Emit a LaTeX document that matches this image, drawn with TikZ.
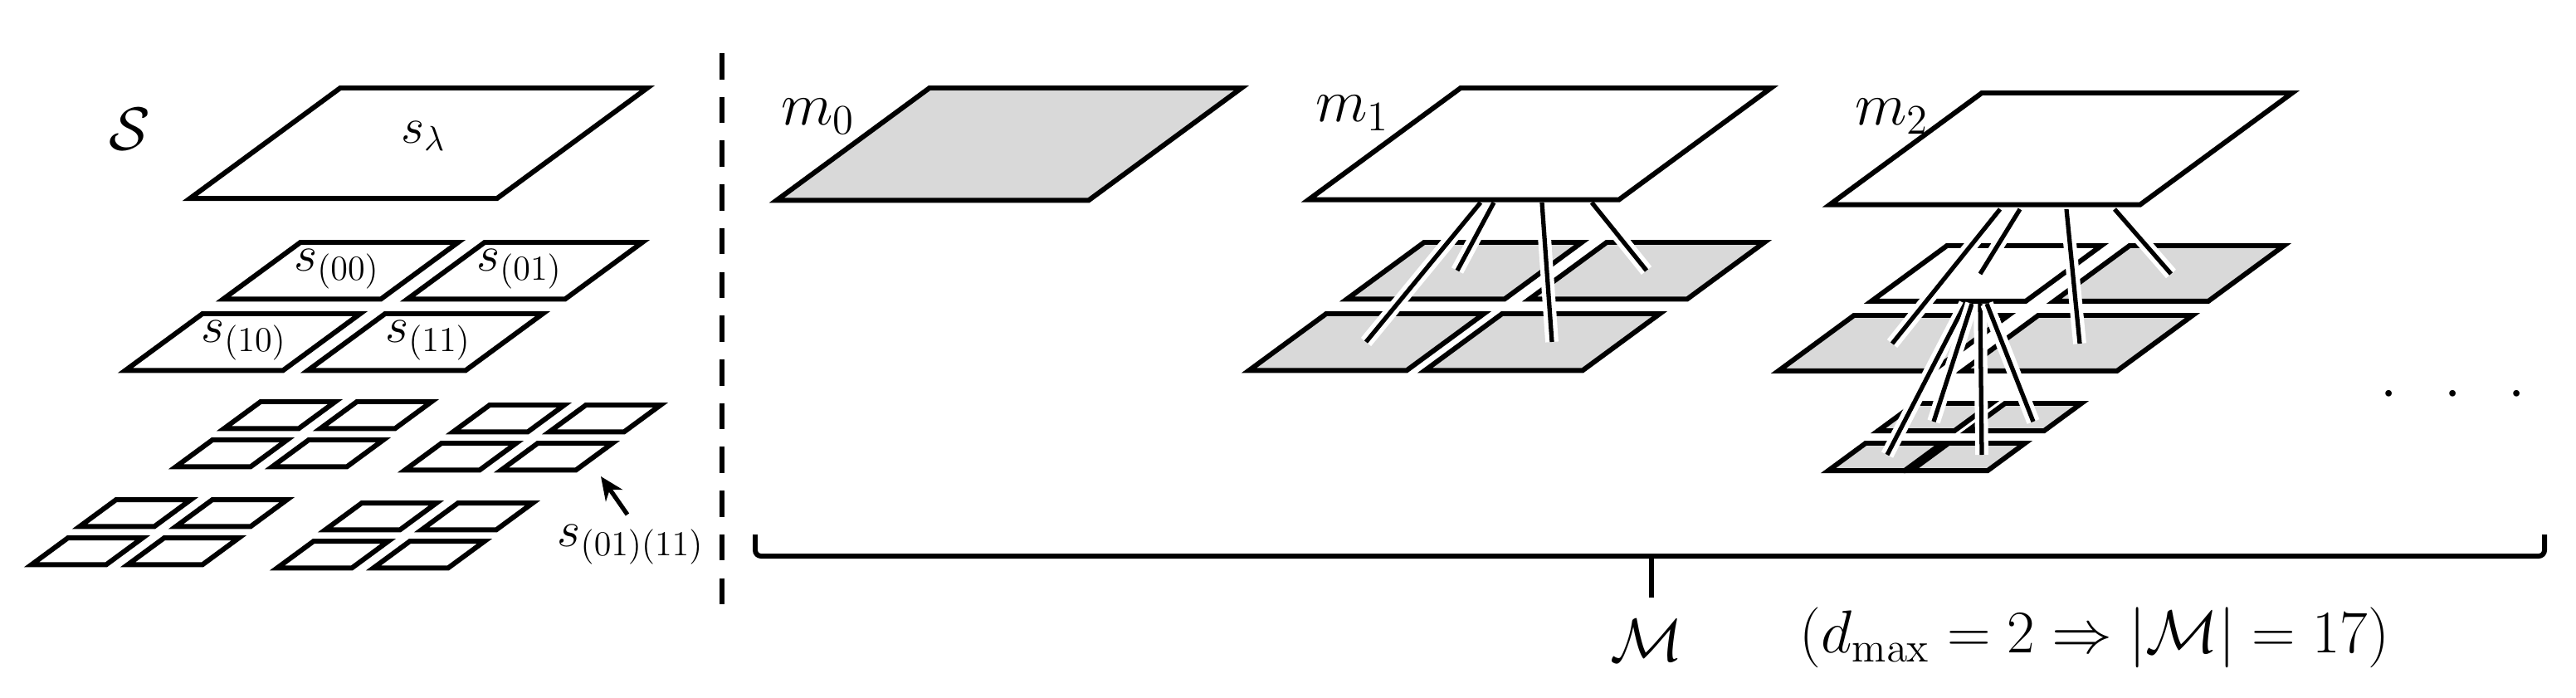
\documentclass[tikz,border=0pt]{standalone}
\usepackage{amsmath}
\usetikzlibrary{arrows.meta}
\begin{document}
\begin{tikzpicture}[x=0.02cm,y=-0.02cm,line join=miter,
  edge/.style={line width=1.7pt},
  link/.style={draw=white,line width=1.5pt,double=black,double distance=1.5pt},
  big/.style={font=\fontsize{21}{25}\selectfont},
  lab/.style={font=\fontsize{17}{20}\selectfont,inner sep=0pt}]
\useasboundingbox (0,0) rectangle (1552,420);
\definecolor{tilegray}{gray}{0.85}
% parallelogram: x, y (top-left), width, fill
\newcommand\pg[4]{\filldraw[edge,fill=#4] (#1,#2) -- ++(#3,0) -- ++({-0.49*#3},{0.36*#3}) -- ++({-#3},0) -- cycle;}
% 2x2 small group: x,y of top-left tile
\newcommand\grp[2]{\pg{#1}{#2}{45}{white}\pg{#1+58}{#2}{45}{white}\pg{#1-29}{#2+23}{45}{white}\pg{#1+29}{#2+23}{45}{white}}
% ---- left part S
\node[big] (S) at (78,78) {$\mathcal{S}$};
\pg{205}{53}{185}{white}
\node[lab] (sl) at (255,82) {$s_\lambda$};
\pg{181}{146}{95}{white}\pg{292}{146}{95}{white}
\pg{122}{189}{95}{white}\pg{232}{189}{95}{white}
\node[lab] (s00) at (203,162) {$s_{(00)}$};
\node[lab] (s01) at (313,162) {$s_{(01)}$};
\node[lab] (s10) at (147,205) {$s_{(10)}$};
\node[lab] (s11) at (258,205) {$s_{(11)}$};
\grp{157}{242}
\grp{295}{244}
\grp{70}{301}
\grp{218}{303}
\node[lab] (s0111) at (380,328) {$s_{(01)(11)}$};
\coordinate (tip) at (362,287);
\draw[line width=1.5pt,-{Stealth[length=8pt,width=7pt]}] (378,310) -- (tip);
% dashed divider
\draw[line width=1.6pt,dash pattern=on 9pt off 6pt] (435,32) -- (435,364);
% ---- m0
\pg{560}{53}{188}{tilegray}
\node[big] (m0) at (493,70) {$m_0$};
% ---- m1
\pg{858}{146}{95}{tilegray}\pg{968}{146}{95}{tilegray}
\pg{799}{189}{95}{tilegray}\pg{905}{189}{95}{tilegray}
\draw[link] (892,122) -- (823,206);
\draw[link] (900,122) -- (878,163);
\draw[link] (929,122) -- (935,206);
\draw[link] (959,122) -- (992,163);
\pg{880}{53}{187}{white}
\node[big] (m1) at (815,68) {$m_1$};
% ---- m2
\pg{1154}{243}{46}{tilegray}\pg{1208}{243}{46}{tilegray}
\pg{1124}{267}{46}{tilegray}\pg{1174}{267}{46}{tilegray}
\pg{1173}{148}{93}{white}\pg{1283}{148}{93}{tilegray}
\pg{1117}{190}{93}{tilegray}\pg{1228}{190}{93}{tilegray}
\draw[link] (1184,183) -- (1137,274);
\draw[link] (1188,183) -- (1165,254);
\draw[link] (1193,183) -- (1194,274);
\draw[link] (1197,183) -- (1225,254);
\draw[link] (1205,126) -- (1140,207);
\draw[link] (1217,126) -- (1193,165);
\draw[link] (1245,126) -- (1253,207);
\draw[link] (1274,126) -- (1308,165);
\pg{1194}{56}{187}{white}
\node[big] (m2) at (1140,70) {$m_2$};
\node[big] (dots) at (1478,238) {$\cdot\;\;\cdot\;\;\cdot$};
% ---- brace
\draw[line width=1.7pt,rounded corners=2pt] (455,322) -- (455,335) -- (1533,335) -- (1533,322);
\draw[line width=1.7pt] (995,335) -- (995,360);
\node[big] (M) at (992,386) {$\mathcal{M}$};
\node[big] (note) at (1262,384) {$(d_{\max} = 2 \Rightarrow |\mathcal{M}| = 17)$};
\end{tikzpicture}
\end{document}
